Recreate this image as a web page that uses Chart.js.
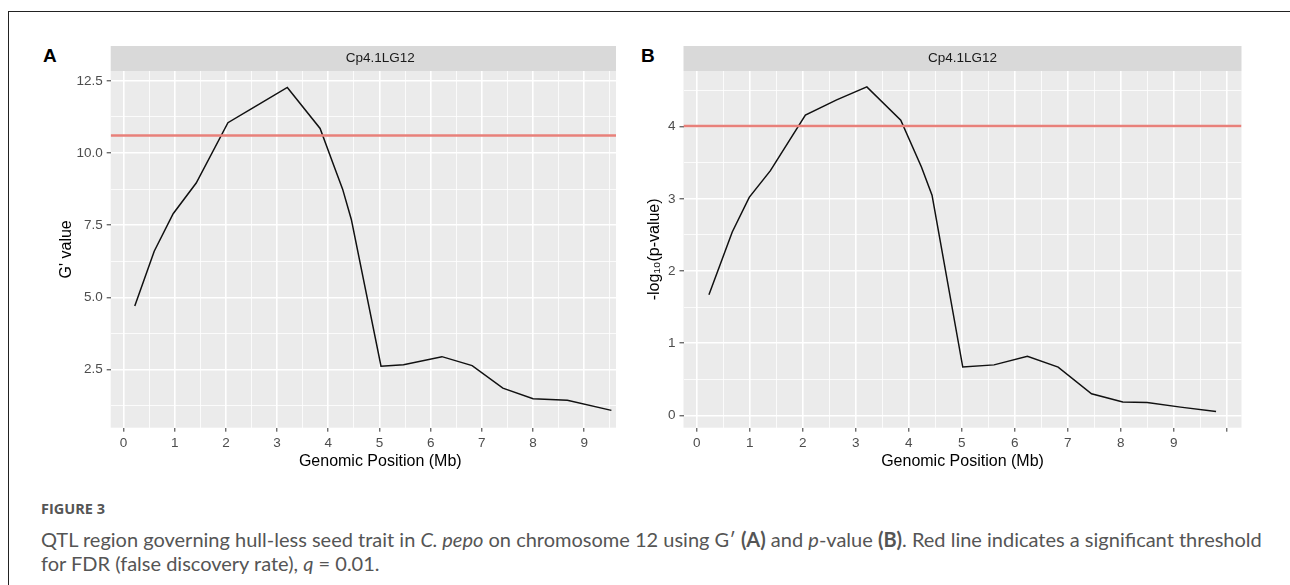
<!DOCTYPE html>
<html>
<head>
<meta charset="utf-8">
<script src="https://cdn.jsdelivr.net/npm/chart.js@4.4.1/dist/chart.umd.min.js"></script>
<style>
  body { margin: 0; background: #fff; width: 1290px; height: 585px; position: relative; overflow: hidden; }
  .frame-top { position: absolute; left: 8px; top: 11px; width: 1282px; height: 1px; background: #222; }
  .frame-left { position: absolute; left: 8px; top: 11px; width: 1px; height: 574px; background: #222; }
  .panel-letter { position: absolute; font: bold 19px "Liberation Sans", Arial, sans-serif; color: #000; }
  .clip { position: absolute; overflow: hidden; }
  .caption-head { position: absolute; left: 41px; top: 499px; font: bold 14.5px "Open Sans", sans-serif; color: #555; }
  .caption { position: absolute; left: 41px; top: 527px; font: 20px Lato, sans-serif; line-height: 24px; color: #555; white-space: nowrap; }
</style>
</head>
<body>
<div class="frame-top"></div>
<div class="frame-left"></div>
<div class="panel-letter" style="left:43px; top:45px;">A</div>
<div class="panel-letter" style="left:641px; top:45px;">B</div>

<div class="clip" style="left:30px; top:40px; width:586px; height:440px;">
  <canvas id="chartA" width="640" height="440"></canvas>
</div>
<div class="clip" style="left:610px; top:40px; width:660px; height:440px;">
  <canvas id="chartB" width="660" height="440"></canvas>
</div>

<div class="caption-head">FIGURE 3</div>
<div class="caption">QTL region governing hull-less seed trait in <i>C. pepo</i> on chromosome 12 using G′ <b>(A)</b> and <i>p</i>-value <b>(B)</b>. Red line indicates a significant threshold<br>for FDR (false discovery rate), <i>q</i> = 0.01.</div>

<script>
// panel A: G' value along the chromosome
const gPos = [0.22, 0.6, 0.97, 1.42, 2.04, 2.61, 3.2, 3.84, 4.1, 4.28, 4.45, 5.03, 5.47, 6.22, 6.81, 7.41, 8.0, 8.67, 9.53];
const gValue = [4.7, 6.6, 7.9, 8.96, 11.05, 11.65, 12.27, 10.85, 9.6, 8.75, 7.7, 2.62, 2.67, 2.95, 2.64, 1.86, 1.49, 1.44, 1.09];
const gThreshold = 10.61;

// panel B: -log10(p-value)
const pPos = [0.23, 0.67, 0.99, 1.39, 2.05, 2.64, 3.21, 3.85, 4.24, 4.44, 5.02, 5.61, 6.24, 6.82, 7.45, 8.04, 8.5, 9.13, 9.8];
const pValue = [1.67, 2.54, 3.02, 3.39, 4.16, 4.37, 4.55, 4.09, 3.44, 3.05, 0.67, 0.70, 0.82, 0.67, 0.30, 0.185, 0.18, 0.115, 0.055];
const pThreshold = 4.01;

// axis ticks (majors carry labels, halves are minor grid lines)
const xTicks = [0, 0.5, 1, 1.5, 2, 2.5, 3, 3.5, 4, 4.5, 5, 5.5, 6, 6.5, 7, 7.5, 8, 8.5, 9, 9.5, 10];
const xLabels = [0, 1, 2, 3, 4, 5, 6, 7, 8, 9];
const gTicks = [1.25, 2.5, 3.75, 5, 6.25, 7.5, 8.75, 10, 11.25, 12.5];
const gLabels = [2.5, 5, 7.5, 10, 12.5];
const pTicks = [0, 0.5, 1, 1.5, 2, 2.5, 3, 3.5, 4, 4.5];
const pLabels = [0, 1, 2, 3, 4];

const xMin = -0.25, xMax = 10.28;
const stripLabel = "Cp4.1LG12";

const panelBg = {
    id: "panelBg",
    beforeDraw(chart) {
        const a = chart.chartArea;
        const ctx = chart.ctx;
        ctx.save();
        ctx.fillStyle = "#EBEBEB";
        ctx.fillRect(a.left, a.top, a.right - a.left, a.bottom - a.top);
        ctx.fillStyle = "#D9D9D9";
        ctx.fillRect(a.left, a.top - 25, a.right - a.left, 25);
        ctx.fillStyle = "#1A1A1A";
        ctx.font = '13.5px "Liberation Sans", Arial, sans-serif';
        ctx.textAlign = "center";
        ctx.textBaseline = "middle";
        ctx.fillText(stripLabel, (a.left + a.right) / 2, a.top - 12.5);
        ctx.restore();
    }
};

function isMajor(v, majors) {
    return majors.some(m => Math.abs(m - v) < 1e-9);
}

function buildChart(id, pos, vals, thr, yMin, yMax, yTicks, yMajors, yFmt, yTitle, pad, yWidth, xMajors) {
    const points = pos.map((x, i) => ({ x: x, y: vals[i] }));
    const font = { family: '"Liberation Sans", Arial, sans-serif', size: 13.5 };
    const titleFont = { family: '"Liberation Sans", Arial, sans-serif', size: 16 };
    const gridOpts = (majors) => ({
        color: "#FFFFFF",
        lineWidth: c => isMajor(c.tick.value, majors) ? 1.6 : 0.8,
        tickColor: c => isMajor(c.tick.value, majors) ? "#333333" : "rgba(0,0,0,0)",
        tickLength: 4,
        tickWidth: 1
    });

    return new Chart(document.getElementById(id), {
        type: "line",
        data: {
            datasets: [{
                data: [{ x: xMin, y: thr }, { x: xMax, y: thr }],
                borderColor: "#E8807A",
                borderWidth: 2.5,
                pointRadius: 0,
                order: 0
            }, {
                data: points,
                borderColor: "#111111",
                borderWidth: 1.5,
                pointRadius: 0,
                tension: 0,
                order: 1
            }]
        },
        options: {
            responsive: false,
            animation: false,
            devicePixelRatio: 1,
            layout: { padding: pad },
            plugins: { legend: { display: false }, tooltip: { enabled: false } },
            scales: {
                x: {
                    type: "linear",
                    min: xMin,
                    max: xMax,
                    afterBuildTicks: s => { s.ticks = xTicks.map(v => ({ value: v })); },
                    afterFit: s => { s.height = 47.6; },
                    grid: gridOpts(xMajors),
                    border: { display: false },
                    ticks: {
                        autoSkip: false,
                        maxRotation: 0,
                        padding: 3,
                        color: "#4D4D4D",
                        font: font,
                        callback: v => isMajor(v, xLabels) ? String(v) : ""
                    },
                    title: { display: true, text: "Genomic Position (Mb)", color: "#000", font: titleFont, padding: 4 }
                },
                y: {
                    type: "linear",
                    min: yMin,
                    max: yMax,
                    afterBuildTicks: s => { s.ticks = yTicks.map(v => ({ value: v })); },
                    afterFit: s => { s.width = yWidth; },
                    grid: gridOpts(yMajors),
                    border: { display: false },
                    ticks: {
                        autoSkip: false,
                        padding: 4,
                        color: "#4D4D4D",
                        font: font,
                        callback: v => isMajor(v, yMajors) ? yFmt(v) : ""
                    },
                    title: { display: true, text: yTitle, color: "#000", font: titleFont, padding: 4 }
                }
            }
        },
        plugins: [panelBg]
    });
}

buildChart("chartA", gPos, gValue, gThreshold, 0.49, 12.84, gTicks, gLabels,
    v => v.toFixed(1), "G' value",
    { left: 23.4, top: 31, right: 20.2, bottom: 4.7 }, 57.3, xLabels);

buildChart("chartB", pPos, pValue, pThreshold, -0.17, 4.77, pTicks, pLabels,
    v => String(v), "-log₁₀(p-value)",
    { left: 31.4, top: 31, right: 28.5, bottom: 4.7 }, 42.1, xLabels.concat([10]));
</script>
</body>
</html>
